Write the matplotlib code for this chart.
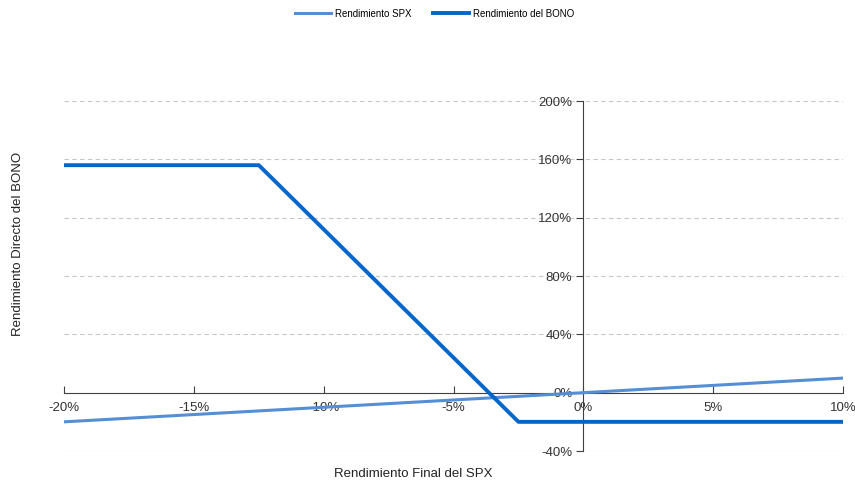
import matplotlib
matplotlib.use("Agg")
import matplotlib.pyplot as plt
from matplotlib.ticker import FuncFormatter

spx_x = [-20, -18, -16, -14, -12, -10, -8, -6, -4, -2, 0, 2, 4, 6, 8, 10]
spx_y = [-20, -18, -16, -14, -12, -10, -8, -6, -4, -2, 0, 2, 4, 6, 8, 10]
bono_x = [-20, -12.5, -2.5, 10]
bono_y = [156, 156, -20, -20]

x_ticks = [-20, -15, -10, -5, 0, 5, 10]
y_ticks = [-40, 0, 40, 80, 120, 160, 200]

plt.rcParams['font.family'] = ['Liberation Sans', 'DejaVu Sans']

fig = plt.figure(figsize=(8.55, 4.88), dpi=100)
ax = fig.add_axes([0.0749, 0.0758, 0.9111, 0.7172])

ax.plot(spx_x, spx_y, color='#558ED5', lw=2.2, label='Rendimiento SPX', zorder=3)
ax.plot(bono_x, bono_y, color='#0066CC', lw=2.8, label='Rendimiento del BONO', zorder=4)

ax.set_xlim(-20, 10)
ax.set_ylim(-40, 200)
ax.set_xticks(x_ticks)
ax.set_yticks(y_ticks)
ax.xaxis.set_major_formatter(FuncFormatter(lambda v, p: f"{v:.0f}%"))
ax.yaxis.set_major_formatter(FuncFormatter(lambda v, p: f"{v:.0f}%"))

for g in y_ticks:
    if g != 0:
        ax.axhline(g, color='#C8C8C8', lw=0.8, ls=(0, (4, 3)), zorder=1)

for s in ['top', 'right']:
    ax.spines[s].set_visible(False)
ax.spines['left'].set_position(('data', 0))
ax.spines['bottom'].set_position(('data', 0))
ax.spines['left'].set_color('#404040')
ax.spines['bottom'].set_color('#404040')
ax.spines['left'].set_zorder(2)
ax.spines['bottom'].set_zorder(2)

ax.tick_params(axis='x', direction='in', length=5, color='#404040', labelsize=9.5, labelcolor='#333333', pad=7)
ax.tick_params(axis='y', direction='out', length=5, color='#404040', labelsize=9.5, labelcolor='#333333', pad=3)

fig.text(0.483, 0.017, 'Rendimiento Final del SPX', ha='center', va='bottom', fontsize=9.5, color='#222222')
fig.text(0.021, 0.50, 'Rendimiento Directo del BONO', ha='center', va='center', rotation=90, fontsize=9.5, color='#222222')

fig.legend(loc='upper center', bbox_to_anchor=(0.508, 1.0), ncol=2, frameon=False, fontsize=7,
           handlelength=3.7, columnspacing=2.2, handletextpad=0.4, borderaxespad=0.5)

fig.savefig('out.png', dpi=100)
